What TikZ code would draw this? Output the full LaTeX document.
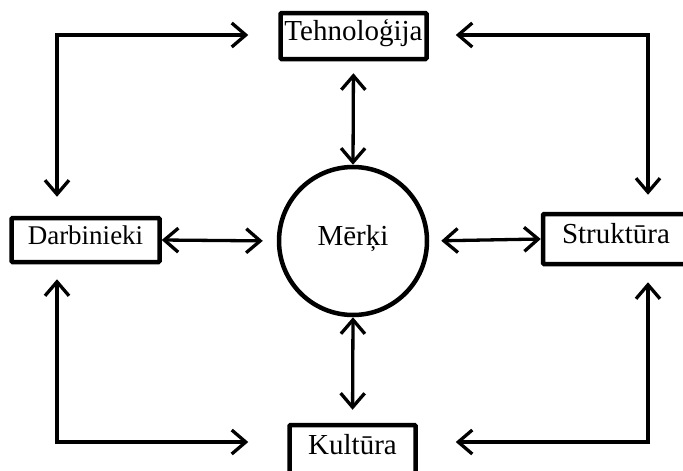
\documentclass[tikz,border=0pt]{standalone}
\usepackage{fontspec}
\setmainfont{Liberation Serif}
\usetikzlibrary{arrows.meta}
\begin{document}
\begin{tikzpicture}[x=1pt,y=-1pt,
  box/.style={draw,line width=4.5pt,rounded corners=1pt,inner sep=0pt,
    text height=0.9em,text depth=0em,font=\fontsize{29}{31}\selectfont},
  circ/.style={draw,circle,line width=4.5pt,inner sep=0pt,minimum size=148pt,
    text height=0.9em,text depth=0em,font=\fontsize{29}{31}\selectfont},
  bi/.style={line width=3.3pt,{Straight Barb[length=14pt,width=24pt]}-{Straight Barb[length=14pt,width=24pt]}}
]
\clip (0,0) rectangle (683,471);
\fill[white] (0,0) rectangle (683,471);
\node[box,minimum width=146pt,minimum height=46pt] (T) at (353.5,36) {Tehnoloģija};
\node[box,minimum width=148pt,minimum height=44pt,font=\fontsize{27}{29}\selectfont] (D) at (85.5,240) {Darbinieki};
\node[box,minimum width=146pt,minimum height=50pt] (S) at (616,239) {Struktūra};
\node[box,minimum width=126pt,minimum height=50pt] (K) at (352.5,450) {Kultūra};
\node[circ] (M) at (353,241) {Mērķi};
\coordinate (cTL) at (57,35);
\coordinate (cTR) at (648,35);
\coordinate (cBL) at (57,442);
\coordinate (cBR) at (648,442);
% center connectors
\draw[bi,shorten <=12pt] (T.south) -- (M.north);
\draw[bi,shorten >=13pt] (M.south) -- (K.north);
\draw[bi,shorten >=14pt] (D.east) -- (M.west);
\draw[bi,shorten <=12pt] (M.east) -- (S.west);
% outer elbows
\draw[bi,shorten <=30pt,shorten >=19pt] (cTL -| T.west) -- (cTL) -- (cTL |- D.north);
\draw[bi,shorten <=27pt,shorten >=17pt] (cTR -| T.east) -- (cTR) -- (cTR |- S.north);
\draw[bi,shorten <=15pt,shorten >=39pt] (cBL |- D.south) -- (cBL) -- (cBL -| K.west);
\draw[bi,shorten <=38pt,shorten >=16pt] (cBR -| K.east) -- (cBR) -- (cBR |- S.south);
\end{tikzpicture}
\end{document}
